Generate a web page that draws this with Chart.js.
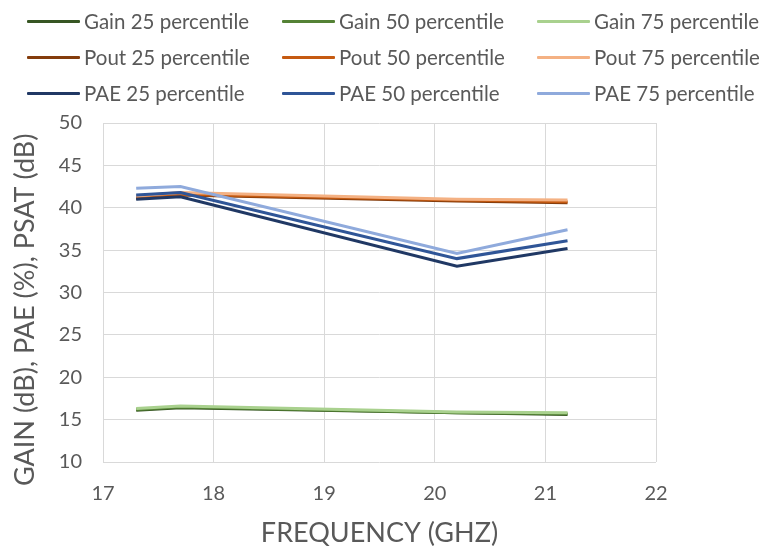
<!DOCTYPE html>
<html>
<head>
<meta charset="utf-8">
<script src="https://cdn.jsdelivr.net/npm/chart.js@4"></script>
<style>
  body { margin: 0; background: #fff; }
  #wrap { position: relative; width: 773px; height: 547px; }
  #legend { position: absolute; left: 0; top: 0; font-family: Lato, sans-serif; font-size: 20.5px; color: #595959; }
  .item { position: absolute; height: 24px; white-space: nowrap; display: flex; align-items: center; }
  .item span.swatch { display: inline-block; width: 53px; height: 3px; margin-right: 4px; border-radius: 1px; }
</style>
</head>
<body>
<div id="wrap">
  <canvas id="chart" width="773" height="547"></canvas>
  <div id="legend"></div>
</div>
<script>
// frequency points (GHz)
const freqs = [17.3, 17.7, 20.2, 21.2];

const gain25 = [16.1, 16.4, 15.8, 15.6];
const gain50 = [16.2, 16.5, 15.8, 15.7];
const gain75 = [16.3, 16.6, 15.9, 15.8];

const pout25 = [41.1, 41.5, 40.8, 40.6];
const pout50 = [41.2, 41.6, 40.9, 40.7];
const pout75 = [41.4, 41.8, 41.0, 40.9];

const pae25 = [41.0, 41.3, 33.1, 35.2];
const pae50 = [41.5, 41.8, 34.0, 36.1];
const pae75 = [42.3, 42.5, 34.6, 37.4];

const seriesNames = ['Gain 25 percentile', 'Gain 50 percentile', 'Gain 75 percentile',
  'Pout 25 percentile', 'Pout 50 percentile', 'Pout 75 percentile',
  'PAE 25 percentile', 'PAE 50 percentile', 'PAE 75 percentile'];
const seriesData = [gain25, gain50, gain75, pout25, pout50, pout75, pae25, pae50, pae75];
const seriesColors = ['#375623', '#548235', '#A9D18E',
  '#843C0C', '#C55A11', '#F4B183',
  '#203864', '#2F5597', '#8FAADC'];

const xTicks = [17, 18, 19, 20, 21, 22];

// later series are painted over earlier ones, like the original
const datasets = seriesNames.map(function (name, i) {
  return {
    label: name,
    data: seriesData[i].map(function (v, j) { return { x: freqs[j], y: v }; }),
    borderColor: seriesColors[i],
    backgroundColor: seriesColors[i],
    borderWidth: 3,
    pointRadius: 0,
    fill: false,
    tension: 0,
    order: seriesNames.length - i
  };
});

// legend, 3 columns x 3 rows
const legend = document.getElementById('legend');
seriesNames.forEach(function (name, i) {
  const el = document.createElement('div');
  el.className = 'item';
  el.style.left = (27 + (i % 3) * 255) + 'px';
  el.style.top = (21 + Math.floor(i / 3) * 36 - 12) + 'px';
  el.innerHTML = '<span class="swatch" style="background:' + seriesColors[i] + '"></span>' + name;
  legend.appendChild(el);
});

const font = 'Lato, sans-serif';

new Chart(document.getElementById('chart'), {
  type: 'line',
  data: { datasets: datasets },
  options: {
    responsive: false,
    animation: false,
    layout: { padding: { top: 123, right: 117, left: 0, bottom: 0 } },
    plugins: { legend: { display: false }, tooltip: { enabled: false } },
    scales: {
      x: {
        type: 'linear',
        min: 17,
        max: 22,
        afterBuildTicks: function (axis) { axis.ticks = xTicks.map(function (v) { return { value: v }; }); },
        afterFit: function (axis) { axis.height = 85; },
        grid: { color: '#d9d9d9', drawTicks: false },
        border: { display: false },
        ticks: { padding: 20, color: '#595959', font: { family: font, size: 20 } },
        title: { display: true, text: 'FREQUENCY (GHZ)', color: '#595959', padding: { top: 0, bottom: 0 }, font: { family: font, size: 27, lineHeight: 1 } }
      },
      y: {
        min: 10,
        max: 50,
        afterFit: function (axis) { axis.width = 103; },
        grid: { color: '#d9d9d9', drawTicks: false },
        border: { display: false },
        ticks: { stepSize: 5, padding: 21, color: '#595959', font: { family: font, size: 20 } },
        // trailing spaces push the centred title down a little, as in the original
        title: { display: true, text: 'GAIN (dB), PAE (%), PSAT (dB)\u00a0\u00a0\u00a0\u00a0\u00a0', color: '#595959', padding: { top: 12, bottom: 0 }, font: { family: font, size: 27, lineHeight: 1 } }
      }
    }
  }
});
</script>
</body>
</html>
